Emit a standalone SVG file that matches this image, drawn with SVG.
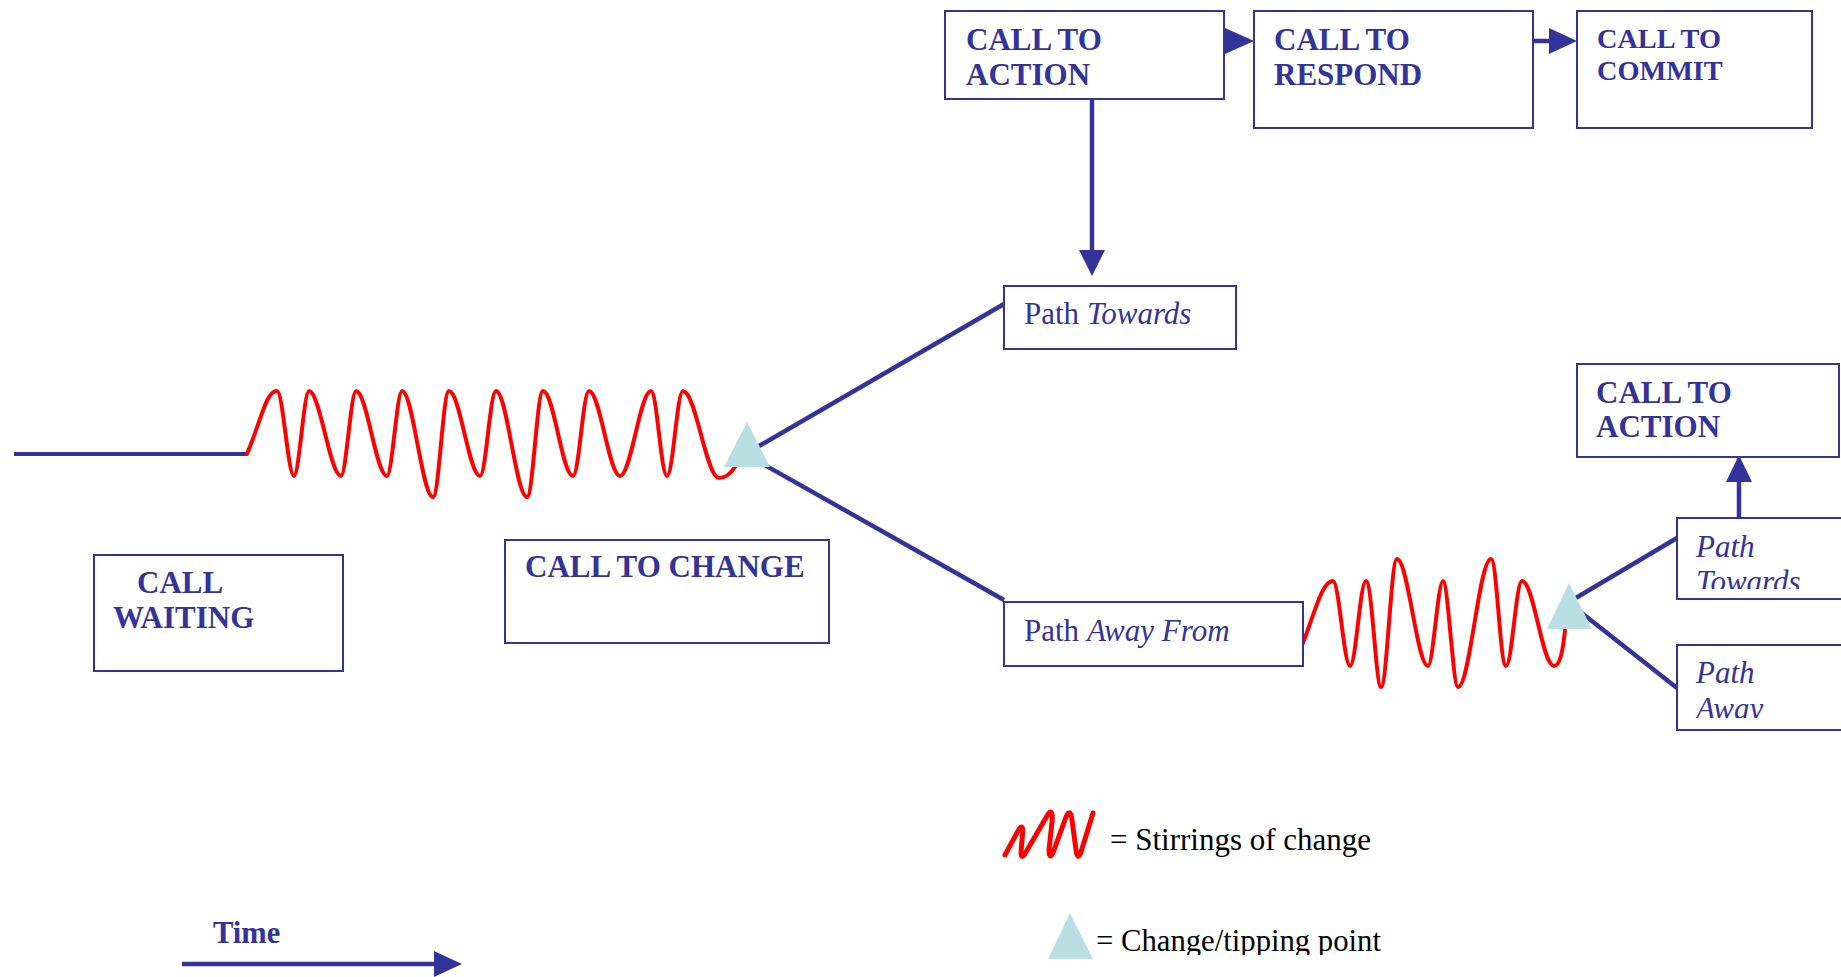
<svg xmlns="http://www.w3.org/2000/svg" width="1841" height="977" viewBox="0 0 1841 977">
<style>
.box{fill:#fff;stroke:#333399;stroke-width:2}
.t{font-family:"Liberation Serif","Times New Roman",serif;fill:#333399;font-size:31px}
.b{font-weight:bold}
.i{font-style:italic}
.lg{font-family:"Liberation Serif","Times New Roman",serif;fill:#000;font-size:31px}
.ln{stroke:#333399;stroke-width:4.5;fill:none}
.ah{fill:#333399}
.wave{stroke:#ff0000;stroke-width:4;fill:none;stroke-linecap:round;stroke-linejoin:round}
.tip{fill:#b9dfe2}
</style>
<defs>
<clipPath id="cpT"><rect x="1677" y="518" width="200" height="71"/></clipPath>
<clipPath id="cpA"><rect x="1677" y="645" width="200" height="73"/></clipPath>
<clipPath id="cpS"><rect x="1100" y="800" width="400" height="57"/></clipPath>
<clipPath id="cpC"><rect x="1090" y="900" width="400" height="55"/></clipPath>
</defs>
<rect width="1841" height="977" fill="#fff"/>

<g id="connectors">
<line class="ln" x1="14" y1="454" x2="247" y2="454" style="stroke-width:4"/>
<line class="ln" x1="747" y1="453" x2="1004" y2="304"/>
<line class="ln" x1="747" y1="455" x2="1004" y2="600"/>
<line class="ln" x1="1569" y1="602" x2="1677" y2="538"/>
<line class="ln" x1="1569" y1="603" x2="1677" y2="688"/>
<line class="ln" x1="1092" y1="99" x2="1092" y2="254"/>
<polygon class="ah" points="1079,250 1105,250 1092,276"/>
<polygon class="ah" points="1225,28 1254,41 1225,54"/>
<line class="ln" x1="1533" y1="41" x2="1551" y2="41"/>
<polygon class="ah" points="1549,28 1577,41 1549,54"/>
<line class="ln" x1="1739" y1="518" x2="1739" y2="478"/>
<polygon class="ah" points="1726,482 1752,482 1739,455"/>
<line class="ln" x1="182" y1="964" x2="437" y2="964"/>
<polygon class="ah" points="434,951 462,964 434,977"/>
</g>

<g id="waves">
<path class="wave" d="M247,454 C262,418 266,391 277,391 C283,391 288,476 294,476 C299,476 304,391 309,391 C320,391 330,476 341,476 C346,476 351,391 356,391 C367,391 376,476 387,476 C392,476 397,391 402,391 C413,391 422,497 433,497 C439,497 443,391 449,391 C460,391 469,476 480,476 C486,476 490,391 496,391 C507,391 516,497 527,497 C533,497 537,391 543,391 C554,391 562,476 573,476 C579,476 583,391 589,391 C600,391 609,476 620,476 C631,476 640,391 651,391 C657,391 661,476 667,476 C673,476 677,391 683,391 C696,391 706,478 719,478 C726,478 731,473 735,467"/>
<path class="wave" d="M1303,643 C1315,612 1322,581 1333,581 C1339,581 1344,666 1350,666 C1356,666 1360,581 1366,581 C1372,581 1376,687 1381,687 C1387,687 1391,559 1397,559 C1408,559 1417,666 1428,666 C1433,666 1438,581 1443,581 C1448,581 1453,687 1458,687 C1470,687 1479,559 1491,559 C1497,559 1500,666 1506,666 C1512,666 1516,581 1522,581 C1534,581 1542,666 1554,666 C1560,666 1563,650 1565,630"/>
</g>

<g id="tip-main"><polygon class="tip" points="747,422 724,467 770,467"/></g>
<g id="tip-right"><polygon class="tip" points="1569,583 1547,629 1592,629"/></g>

<g id="call-waiting">
<rect class="box" x="94" y="555" width="249" height="116"/>
<text class="t b" x="137" y="593">CALL</text>
<text class="t b" x="113" y="628">WAITING</text>
</g>

<g id="call-to-change">
<rect class="box" x="505" y="540" width="324" height="103"/>
<text class="t b" x="525" y="577">CALL TO CHANGE</text>
</g>

<g id="call-to-action-top">
<rect class="box" x="945" y="11" width="279" height="88"/>
<text class="t b" x="966" y="50">CALL TO</text>
<text class="t b" x="966" y="85">ACTION</text>
</g>

<g id="call-to-respond">
<rect class="box" x="1254" y="11" width="279" height="117"/>
<text class="t b" x="1274" y="50">CALL TO</text>
<text class="t b" x="1274" y="85">RESPOND</text>
</g>

<g id="call-to-commit">
<rect class="box" x="1577" y="11" width="235" height="117"/>
<text class="t b" x="1597" y="48" style="font-size:28.3px">CALL TO</text>
<text class="t b" x="1597" y="80" style="font-size:28.3px">COMMIT</text>
</g>

<g id="path-towards">
<rect class="box" x="1004" y="286" width="232" height="63"/>
<text class="t" x="1024" y="324">Path <tspan class="i">Towards</tspan></text>
</g>

<g id="path-away-from">
<rect class="box" x="1004" y="602" width="299" height="64"/>
<text class="t" x="1024" y="641">Path <tspan class="i">Away From</tspan></text>
</g>

<g id="call-to-action-right">
<rect class="box" x="1577" y="364" width="262" height="93"/>
<text class="t b" x="1596" y="403">CALL TO</text>
<text class="t b" x="1596" y="437">ACTION</text>
</g>

<g id="path-towards-right">
<rect class="box" x="1677" y="518" width="200" height="81"/>
<g clip-path="url(#cpT)">
<text class="t i" x="1696" y="557">Path</text>
<text class="t i" x="1696" y="592">Towards</text>
</g>
</g>

<g id="path-away-right">
<rect class="box" x="1677" y="645" width="200" height="85"/>
<g clip-path="url(#cpA)">
<text class="t i" x="1696" y="683">Path</text>
<text class="t i" x="1696" y="719">Away</text>
</g>
</g>

<g id="time">
<text class="t b" x="213" y="943" style="font-size:30.5px">Time</text>
</g>

<g id="legend">
<path class="wave" style="stroke-width:5" d="M1005,855 L1018,831 C1022,824 1024,826 1022,840 L1021,852 C1021,858 1023,858 1026,852 L1047,816 C1051,809 1053,812 1052,822 L1049,850 C1049,858 1051,858 1054,850 L1066,817 C1069,810 1071,812 1072,820 L1076,850 C1077,858 1079,858 1081,852 L1093,813"/>
<g clip-path="url(#cpS)"><text class="lg" x="1110" y="850">= Stirrings of change</text></g>
<polygon class="tip" points="1070,913 1048,959 1093,959"/>
<g clip-path="url(#cpC)"><text class="lg" x="1096" y="951" style="font-size:30.7px">= Change/tipping point</text></g>
</g>
</svg>
